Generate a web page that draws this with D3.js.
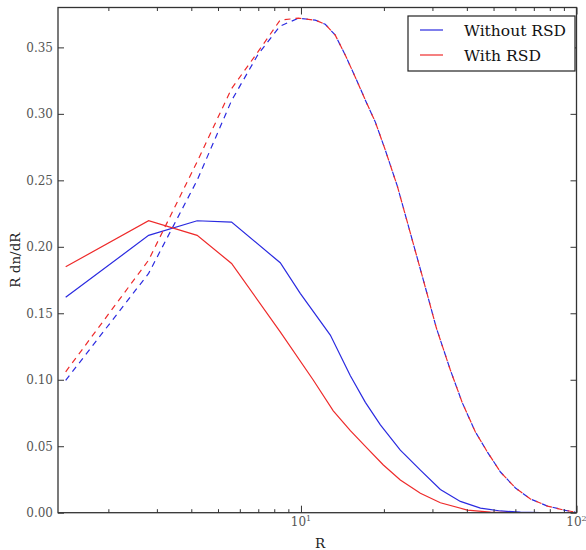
<!DOCTYPE html>
<html><head><meta charset="utf-8">
<script src="https://cdn.jsdelivr.net/npm/d3@7"></script>
<style>body{margin:0;background:#fff} svg text{font-family:"DejaVu Serif",serif}</style>
</head><body><svg id="c" width="586" height="550"></svg>
<script>
// ---- data ----
const seriesNames = ["Without RSD", "With RSD"];
const seriesColors = ["#2a2ae0", "#ee2a2a"];

const blueSolidR = [1.4, 2.8, 4.2, 5.6, 8.41, 9.94, 12.78, 15.11, 17.13, 19.42, 22.94, 27.13, 32.06, 37.89, 44.80, 52.97, 62.60, 73.98];
const blueSolid  = [0.162, 0.2086, 0.2196, 0.2186, 0.188, 0.165, 0.1336, 0.103, 0.083, 0.066, 0.047, 0.032, 0.0175, 0.0085, 0.0035, 0.0013, 0.0004, 0.0];

const redSolidR = [1.4, 2.8, 4.2, 5.6, 8.41, 11.08, 13.10, 15.11, 17.41, 19.91, 22.94, 27.13, 32.06, 40.19, 48.72, 57.58];
const redSolid  = [0.185, 0.2196, 0.2086, 0.1875, 0.136, 0.0998, 0.0766, 0.0617, 0.0484, 0.0359, 0.0246, 0.0146, 0.0075, 0.002, 0.0005, 0.0];

const dashedRiseR    = [1.4, 2.8, 4.2, 5.6, 7.0, 8.4, 9.8];
const blueDashedRise = [0.0995, 0.180, 0.250, 0.310, 0.345, 0.366, 0.372];
const redDashedRise  = [0.106, 0.190, 0.264, 0.319, 0.347, 0.3705, 0.372];

const dashedFallR = [11.27, 12.25, 13.32, 14.49, 15.75, 17.13, 18.62, 20.24, 22.38, 24.95, 27.81, 31.01, 34.85, 38.54, 42.97, 47.51, 52.97, 60.04, 68.07, 78.48, 91.2, 99.0];
const dashedFall  = [0.3705, 0.3674, 0.3592, 0.3441, 0.3276, 0.3103, 0.2938, 0.2727, 0.2456, 0.2103, 0.1750, 0.1389, 0.1073, 0.0825, 0.0607, 0.0456, 0.0306, 0.0186, 0.0103, 0.0050, 0.0017, 0.0005];

const yTicks = [0, 0.05, 0.10, 0.15, 0.20, 0.25, 0.30, 0.35];
const xMajor = [10, 100];
const xMinor = [2, 3, 4, 5, 6, 7, 8, 9, 20, 30, 40, 50, 60, 70, 80, 90];
const xTickLabels = [{v: 10, base: "10", exp: "1"}, {v: 100, base: "10", exp: "2"}];
const xLabel = "R";
const yLabel = "R dn/dR";

// ---- layout ----
const L = 58, Rr = 576.5, T = 7.5, B = 512.7;
const svg = d3.select("#c");
const x = d3.scaleLog().domain([1.313, 100]).range([L, Rr]);
const y = d3.scaleLinear().domain([0, 0.38]).range([B, T]);

const zip = (xs, ys) => xs.map((v, i) => [v, ys[i]]);
const line = d3.line().x(d => x(d[0])).y(d => y(d[1]));

svg.append("clipPath").attr("id", "pc").append("rect")
  .attr("x", L).attr("y", T).attr("width", Rr - L).attr("height", B - T);

const plot = svg.append("g").attr("clip-path", "url(#pc)");
const blueDashed = zip(dashedRiseR.concat(dashedFallR), blueDashedRise.concat(dashedFall));
const redDashed  = zip(dashedRiseR.concat(dashedFallR), redDashedRise.concat(dashedFall));

plot.append("path").attr("d", line(zip(blueSolidR, blueSolid)))
  .attr("fill", "none").attr("stroke", seriesColors[0]).attr("stroke-width", 1.2);
plot.append("path").attr("d", line(blueDashed))
  .attr("fill", "none").attr("stroke", seriesColors[0]).attr("stroke-width", 1.2).attr("stroke-dasharray", "6,5");
plot.append("path").attr("d", line(zip(redSolidR, redSolid)))
  .attr("fill", "none").attr("stroke", seriesColors[1]).attr("stroke-width", 1.2);
plot.append("path").attr("d", line(redDashed))
  .attr("fill", "none").attr("stroke", seriesColors[1]).attr("stroke-width", 1.2).attr("stroke-dasharray", "6,5");

// ---- axes (ticks inward on all four sides) ----
function style(g) {
  g.select(".domain").remove();
  g.selectAll("line").attr("stroke", "#333").attr("stroke-width", 1);
  g.attr("font-family", null).attr("font-size", null);
}
svg.append("g").attr("transform", `translate(0,${B})`)
  .call(d3.axisBottom(x).tickValues(xMajor).tickSize(-7).tickFormat(""))
  .call(style);
svg.append("g").attr("transform", `translate(0,${B})`)
  .call(d3.axisBottom(x).tickValues(xMinor).tickSize(-3.5).tickFormat(""))
  .call(style);
svg.append("g").attr("transform", `translate(0,${T})`)
  .call(d3.axisTop(x).tickValues(xMajor).tickSize(-7).tickFormat(""))
  .call(style);
svg.append("g").attr("transform", `translate(0,${T})`)
  .call(d3.axisTop(x).tickValues(xMinor).tickSize(-3.5).tickFormat(""))
  .call(style);
const yl = svg.append("g").attr("transform", `translate(${L},0)`)
  .call(d3.axisLeft(y).tickValues(yTicks).tickSize(-6).tickPadding(5).tickFormat(d3.format(".2f")))
  .call(style);
yl.selectAll("text").attr("font-size", 12).attr("fill", "#555").attr("font-family", "DejaVu Serif");
svg.append("g").attr("transform", `translate(${Rr},0)`)
  .call(d3.axisRight(y).tickValues(yTicks).tickSize(-6).tickFormat(""))
  .call(style);

// x tick labels with superscripts
const xl = svg.append("g").selectAll("text").data(xTickLabels).join("text")
  .attr("x", d => x(d.v)).attr("y", 526).attr("text-anchor", "middle")
  .attr("font-size", 12).attr("fill", "#555");
xl.append("tspan").text(d => d.base);
xl.append("tspan").attr("dy", -5).attr("font-size", 8).text(d => d.exp);

// frame
svg.append("rect").attr("x", L).attr("y", T).attr("width", Rr - L).attr("height", B - T)
  .attr("fill", "none").attr("stroke", "#333").attr("stroke-width", 1.3);

// axis labels
svg.append("text").attr("x", 320).attr("y", 548).attr("text-anchor", "middle")
  .attr("font-size", 13.5).attr("fill", "#222").text(xLabel);
svg.append("text").attr("transform", `translate(20,${(T + B) / 2}) rotate(-90)`)
  .attr("text-anchor", "middle").attr("font-size", 13.5).attr("fill", "#222").text(yLabel);

// legend
const legendWidths = [102, 77];
const lg = svg.append("g");
lg.append("rect").attr("x", 408).attr("y", 16).attr("width", 167).attr("height", 55)
  .attr("fill", "#fff").attr("stroke", "#222").attr("stroke-width", 1.2);
seriesNames.forEach((n, i) => {
  const yy = 30 + i * 25;
  lg.append("line").attr("x1", 420).attr("x2", 443).attr("y1", yy).attr("y2", yy)
    .attr("stroke", seriesColors[i]).attr("stroke-width", 1.2);
  lg.append("text").attr("x", 464).attr("y", yy + 5.5).attr("font-size", 15.5)
    .attr("textLength", legendWidths[i]).attr("lengthAdjust", "spacingAndGlyphs")
    .attr("fill", "#111").text(n);
});
</script></body></html>
